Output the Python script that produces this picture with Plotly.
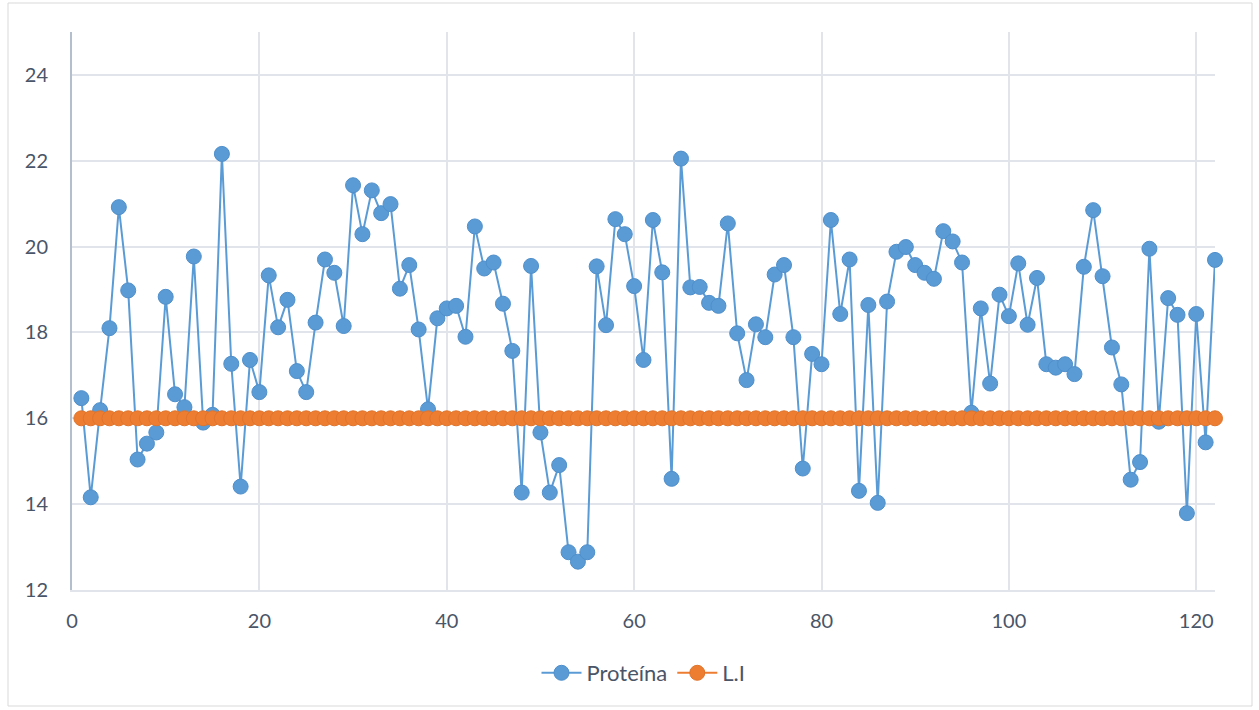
import plotly.graph_objects as go

# Sample number (1..122) and measured protein values
muestra = list(range(1, 123))
proteina = [
    16.47, 14.16, 16.19, 18.10, 20.92, 18.98, 15.04, 15.41, 15.67, 18.83,
    16.56, 16.26, 19.77, 15.90, 16.08, 22.16, 17.27, 14.41, 17.36, 16.61,
    19.33, 18.12, 18.76, 17.10, 16.61, 18.23, 19.70, 19.39, 18.15, 21.43,
    20.29, 21.31, 20.78, 20.99, 19.02, 19.57, 18.07, 16.21, 18.33, 18.56,
    18.62, 17.90, 20.47, 19.49, 19.63, 18.67, 17.57, 14.27, 19.55, 15.67,
    14.27, 14.91, 12.88, 12.66, 12.88, 19.54, 18.17, 20.64, 20.29, 19.08,
    17.36, 20.62, 19.40, 14.59, 22.05, 19.05, 19.06, 18.69, 18.62, 20.54,
    17.98, 16.89, 18.19, 17.89, 19.35, 19.57, 17.89, 14.83, 17.50, 17.26,
    20.62, 18.43, 19.70, 14.31, 18.64, 14.03, 18.72, 19.88, 19.99, 19.57,
    19.39, 19.25, 20.36, 20.12, 19.63, 16.13, 18.56, 16.81, 18.88, 18.38,
    19.61, 18.18, 19.27, 17.26, 17.18, 17.26, 17.03, 19.53, 20.85, 19.31,
    17.65, 16.79, 14.57, 14.98, 19.95, 15.92, 18.80, 18.41, 13.79, 18.43,
    15.44, 19.69,
]
# Lower limit (L.I) for every sample
limite_inferior = [16.0] * len(muestra)

x_ticks = [0, 20, 40, 60, 80, 100, 120]
y_ticks = [12, 14, 16, 18, 20, 22, 24]

AZUL = "#5B9BD5"
NARANJA = "#ED7D31"
TEXTO = "#4A5568"
REJILLA = "#E1E5EB"
FUENTE = "Lato"

fig = go.Figure()
fig.add_trace(go.Scatter(
    x=muestra, y=proteina, name="Proteína", mode="lines+markers",
    line=dict(color=AZUL, width=2),
    marker=dict(color=AZUL, size=15, line=dict(color="#4F8FCB", width=1)),
    cliponaxis=False,
))
fig.add_trace(go.Scatter(
    x=muestra, y=limite_inferior, name="L.I", mode="lines+markers",
    line=dict(color=NARANJA, width=2),
    marker=dict(color=NARANJA, size=15, line=dict(color="#E0742B", width=1)),
    cliponaxis=False,
))

# Plot area spans pixels 72..1215 horizontally and 32..590 vertically
L, R, T, B = 72, 1215, 32, 590
W, H = 1259, 710
pw, ph = R - L, B - T


def px_x(p):
    return (p - L) / pw


def px_y(p):
    return (B - p) / ph


fig.update_layout(
    width=W, height=H,
    margin=dict(l=L, r=W - R, t=T, b=H - B),
    paper_bgcolor="white", plot_bgcolor="white",
    font=dict(family=FUENTE, size=20, color=TEXTO),
    showlegend=True,
    legend=dict(
        orientation="h", x=0.5, xanchor="center",
        y=px_y(673), yanchor="middle",
        font=dict(family=FUENTE, size=22, color=TEXTO),
        itemwidth=40, traceorder="normal",
    ),
    xaxis=dict(
        range=[0, 122], tickmode="array", tickvals=x_ticks,
        ticktext=[str(v) for v in x_ticks],
        showgrid=True, gridcolor=REJILLA, gridwidth=1.5,
        showline=True, linecolor=REJILLA, linewidth=1.5,
        zeroline=False, ticks="", ticklabelstandoff=12,
    ),
    yaxis=dict(
        range=[12, 25], tickmode="array", tickvals=y_ticks,
        ticktext=[str(v) for v in y_ticks],
        showgrid=True, gridcolor=REJILLA, gridwidth=1.5,
        showline=True, linecolor="#B4BFCD", linewidth=2,
        zeroline=False, ticks="", ticklabelstandoff=18,
    ),
    shapes=[dict(
        type="rect", xref="paper", yref="paper",
        x0=px_x(8), x1=px_x(1252), y0=px_y(706), y1=px_y(3),
        line=dict(color="#D9D9D9", width=1), fillcolor="rgba(0,0,0,0)",
        layer="below",
    )],
)

fig.write_html("out.html")
